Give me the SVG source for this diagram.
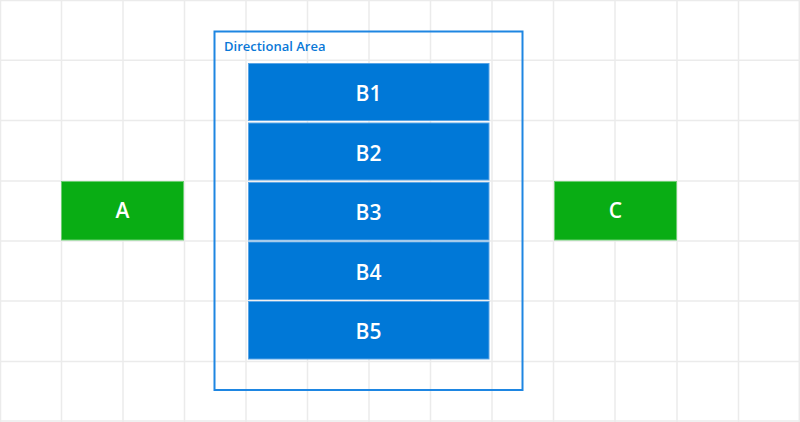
<svg xmlns="http://www.w3.org/2000/svg" width="800" height="422" viewBox="0 0 800 422">
<style>
.grid line{stroke:#ebebeb;stroke-width:1.5}
.blue rect{fill:#0078d7;stroke:#5aa5e6;stroke-width:1}
.green rect{fill:#09ad14;stroke:#6ccf72;stroke-width:1}
.lbl{font-family:"Open Sans","Noto Sans",sans-serif;font-weight:600;font-size:21px;fill:#ffffff;text-anchor:middle}
.title{font-family:"Open Sans","Noto Sans",sans-serif;font-weight:600;font-size:13px;fill:#0a78d7}
</style>
<rect width="800" height="422" fill="#ffffff"/>
<g class="grid" id="grid">
<line x1="0.5" y1="0" x2="0.5" y2="422"/>
<line x1="61.5" y1="0" x2="61.5" y2="422"/>
<line x1="123" y1="0" x2="123" y2="422"/>
<line x1="184.5" y1="0" x2="184.5" y2="422"/>
<line x1="246" y1="0" x2="246" y2="422"/>
<line x1="307.5" y1="0" x2="307.5" y2="422"/>
<line x1="369" y1="0" x2="369" y2="422"/>
<line x1="430.5" y1="0" x2="430.5" y2="422"/>
<line x1="492" y1="0" x2="492" y2="422"/>
<line x1="553.5" y1="0" x2="553.5" y2="422"/>
<line x1="615" y1="0" x2="615" y2="422"/>
<line x1="677" y1="0" x2="677" y2="422"/>
<line x1="738.5" y1="0" x2="738.5" y2="422"/>
<line x1="799.3" y1="0" x2="799.3" y2="422"/>
<line x1="0" y1="0.5" x2="800" y2="0.5"/>
<line x1="0" y1="60.3" x2="800" y2="60.3"/>
<line x1="0" y1="120.5" x2="800" y2="120.5"/>
<line x1="0" y1="181" x2="800" y2="181"/>
<line x1="0" y1="241" x2="800" y2="241"/>
<line x1="0" y1="301" x2="800" y2="301"/>
<line x1="0" y1="361.5" x2="800" y2="361.5"/>
<line x1="0" y1="421" x2="800" y2="421"/>
</g>
<g id="directional-area">
<rect x="214.5" y="31.5" width="308" height="358.5" fill="none" stroke="#1e86e2" stroke-width="2"/>
<text class="title" x="224" y="51">Directional Area</text>
</g>
<g id="B1" class="blue"><rect x="248.5" y="63.5" width="240.5" height="57"/><text class="lbl" x="368.5" y="101">B1</text></g>
<g id="B2" class="blue"><rect x="248.5" y="123" width="240.5" height="57"/><text class="lbl" x="368.5" y="160.5">B2</text></g>
<g id="B3" class="blue"><rect x="248.5" y="182.5" width="240.5" height="57.5"/><text class="lbl" x="368.5" y="220">B3</text></g>
<g id="B4" class="blue"><rect x="248.5" y="242" width="240.5" height="57.5"/><text class="lbl" x="368.5" y="279.5">B4</text></g>
<g id="B5" class="blue"><rect x="248.5" y="301.5" width="240.5" height="57.5"/><text class="lbl" x="368.5" y="339">B5</text></g>
<g id="A" class="green"><rect x="61.5" y="181.5" width="122" height="58.5"/><text class="lbl" x="122.5" y="218">A</text></g>
<g id="C" class="green"><rect x="554.5" y="181.5" width="122" height="58.5"/><text class="lbl" x="615.5" y="218">C</text></g>
<g id="connectors"></g>
</svg>
